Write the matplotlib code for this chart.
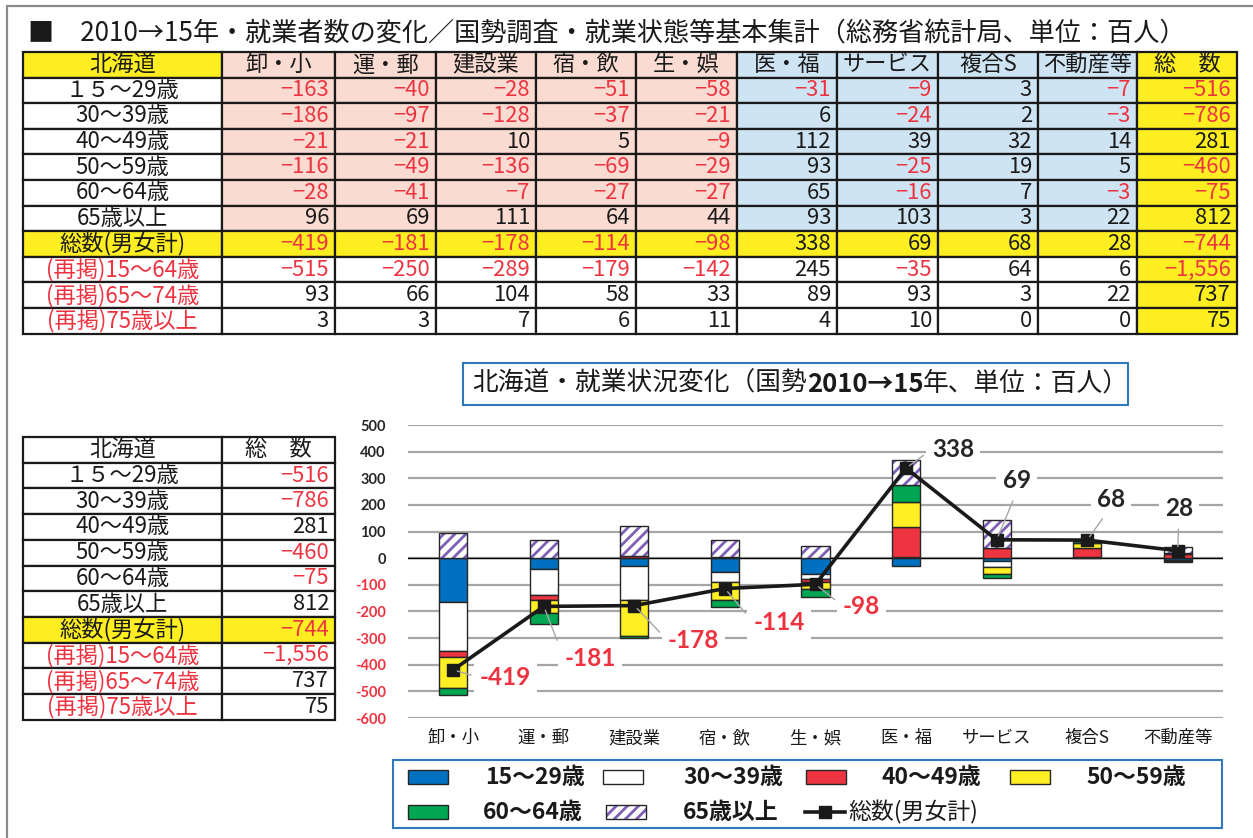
import matplotlib
matplotlib.use('Agg')
import matplotlib.pyplot as plt
from matplotlib.patches import Rectangle
import numpy as np

plt.rcParams['font.family'] = ['Noto Sans CJK JP', 'DejaVu Sans']
plt.rcParams['hatch.linewidth'] = 2.0

# ---------------- data ----------------
industries = ['卸・小', '運・郵', '建設業', '宿・飲', '生・娯', '医・福', 'サービス', '複合S', '不動産等']
age_labels = ['15～29歳', '30～39歳', '40～49歳', '50～59歳', '60～64歳', '65歳以上']
row_labels = ['１５～29歳', '30～39歳', '40～49歳', '50～59歳', '60～64歳', '65歳以上',
              '総数(男女計)', '(再掲)15～64歳', '(再掲)65～74歳', '(再掲)75歳以上']
v_15_29 = [-163, -40, -28, -51, -58, -31, -9, 3, -7]
v_30_39 = [-186, -97, -128, -37, -21, 6, -24, 2, -3]
v_40_49 = [-21, -21, 10, 5, -9, 112, 39, 32, 14]
v_50_59 = [-116, -49, -136, -69, -29, 93, -25, 19, 5]
v_60_64 = [-28, -41, -7, -27, -27, 65, -16, 7, -3]
v_65over = [96, 69, 111, 64, 44, 93, 103, 3, 22]
v_total = [-419, -181, -178, -114, -98, 338, 69, 68, 28]
v_15_64 = [-515, -250, -289, -179, -142, 245, -35, 64, 6]
v_65_74 = [93, 66, 104, 58, 33, 89, 93, 3, 22]
v_75over = [3, 3, 7, 6, 11, 4, 10, 0, 0]
col_total = [-516, -786, 281, -460, -75, 812, -744, -1556, 737, 75]
y_ticks = [500, 400, 300, 200, 100, 0, -100, -200, -300, -400, -500, -600]

# ---------------- styles ----------------
YEL = '#FCEE21'
PINK = '#FADBD2'
LBLUE = '#CFE4F3'
RED_T = '#EE3340'
DARK = '#1A1A1A'
BOXBLUE = '#2E78BE'
C_BLUE = '#0070C0'
C_RED = '#EE3440'
C_YEL = '#FFEF24'
C_GREEN = '#00A651'
C_PURP = '#7E5FB8'

fig = plt.figure(figsize=(12.53, 8.38), dpi=100)
fa = fig.add_axes([0, 0, 1, 1], zorder=0)
fa.set_xlim(0, 1253)
fa.set_ylim(838, 0)
fa.axis('off')

# outer frame
fa.plot([7, 7, 1253], [838, 6, 6], color='#8C8C8C', lw=1.6, solid_joinstyle='miter')

# main title
fa.text(28, 33, '■　2010→15年・就業者数の変化／国勢調査・就業状態等基本集計（総務省統計局、単位：百人）',
        fontsize=18.8, va='center', ha='left', color=DARK)


def fmt(v, minus='−'):
    return f'{v:,}'.replace('-', minus)


def cell(x0, x1, y0, y1, fc, lw=1.6):
    fa.add_patch(Rectangle((x0, y0), x1 - x0, y1 - y0, facecolor=fc,
                           edgecolor=DARK, lw=lw, zorder=1))


# ---------------- main table ----------------
col_edges = [23, 222, 335, 436, 536, 636, 737, 837, 938, 1038, 1137, 1237]
top = 52
rh = 25.6
table_rows = [v_15_29, v_30_39, v_40_49, v_50_59, v_60_64, v_65over,
              v_total, v_15_64, v_65_74, v_75over]
headers = ['北海道'] + industries + ['総　数']
FS = 16
NFS = 15.8

for c in range(len(headers)):
    x0, x1 = col_edges[c], col_edges[c + 1]
    if c == 0 or c == 10:
        fc = YEL
    elif c <= 5:
        fc = PINK
    else:
        fc = LBLUE
    cell(x0, x1, top, top + rh, fc)
    fa.text((x0 + x1) / 2, top + rh / 2, headers[c], ha='center', va='center',
            fontsize=FS, color=DARK, zorder=3)

for r in range(10):
    y0 = top + rh * (r + 1)
    y1 = y0 + rh
    for c in range(len(col_edges) - 1):
        x0, x1 = col_edges[c], col_edges[c + 1]
        if r == 6 or c == 10:
            fc = YEL
        elif r <= 5 and c == 0:
            fc = 'white'
        elif r <= 5 and c <= 5:
            fc = PINK
        elif r <= 5:
            fc = LBLUE
        else:
            fc = 'white'
        cell(x0, x1, y0, y1, fc)
        if c == 0:
            fa.text((x0 + x1) / 2, (y0 + y1) / 2, row_labels[r], ha='center', va='center',
                    fontsize=FS, color=RED_T if r >= 7 else DARK, zorder=3)
        else:
            v = table_rows[r][c - 1] if c <= 9 else col_total[r]
            fa.text(x1 - 6, (y0 + y1) / 2, fmt(v), ha='right', va='center',
                    fontsize=NFS, color=RED_T if v < 0 else DARK, zorder=3)

# ---------------- small table ----------------
sc = [23, 222, 335]
stop = 437
srh = 25.7
cell(sc[0], sc[1], stop, stop + srh, 'white')
cell(sc[1], sc[2], stop, stop + srh, 'white')
fa.text((sc[0] + sc[1]) / 2, stop + srh / 2, '北海道', ha='center', va='center', fontsize=FS, color=DARK, zorder=3)
fa.text((sc[1] + sc[2]) / 2, stop + srh / 2, '総　数', ha='center', va='center', fontsize=FS, color=DARK, zorder=3)
for r in range(10):
    y0 = stop + srh * (r + 1)
    y1 = y0 + srh
    fc = YEL if r == 6 else 'white'
    cell(sc[0], sc[1], y0, y1, fc)
    cell(sc[1], sc[2], y0, y1, fc)
    fa.text((sc[0] + sc[1]) / 2, (y0 + y1) / 2, row_labels[r], ha='center', va='center',
            fontsize=FS, color=RED_T if r >= 7 else DARK, zorder=3)
    v = col_total[r]
    fa.text(sc[2] - 6, (y0 + y1) / 2, fmt(v), ha='right', va='center',
            fontsize=NFS, color=RED_T if v < 0 else DARK, zorder=3)

# ---------------- chart title box ----------------
fa.add_patch(Rectangle((463, 363), 665, 42, facecolor='white', edgecolor=BOXBLUE, lw=1.5))
TFS = 18.5
t1 = fa.text(472, 384, '北海道・就業状況変化（国勢', fontsize=TFS, va='center', ha='left', color=DARK)
t2 = fa.annotate('2010→15', xy=(1, 0.5), xycoords=t1, va='center', ha='left',
                 fontsize=TFS, fontweight='bold', color=DARK)
t3 = fa.annotate('年、単位：百人）', xy=(1, 0.5), xycoords=t2, va='center', ha='left',
                 fontsize=TFS, color=DARK)

# ---------------- chart ----------------
W, H = 1253, 838
ax = fig.add_axes([408 / W, 1 - 718 / H, 815 / W, 293 / H], zorder=2)
ax.patch.set_alpha(0)
x = np.arange(len(industries))
bw = 0.31

series = [v_15_29, v_30_39, v_40_49, v_50_59, v_60_64, v_65over]
face = [C_BLUE, 'white', C_RED, C_YEL, C_GREEN, 'white']
pos_base = np.zeros(len(x))
neg_base = np.zeros(len(x))
for k, vals in enumerate(series):
    vals = np.array(vals, dtype=float)
    bottom = np.where(vals >= 0, pos_base, neg_base)
    if k == 5:
        ax.bar(x, vals, bw, bottom=bottom, facecolor='white', edgecolor=C_PURP,
               hatch='///', lw=0, zorder=2)
        ax.bar(x, vals, bw, bottom=bottom, fill=False, edgecolor='#262626', lw=1.0, zorder=2.1)
    else:
        ax.bar(x, vals, bw, bottom=bottom, facecolor=face[k], edgecolor='#262626',
               lw=1.0, zorder=2)
    pos_base += np.clip(vals, 0, None)
    neg_base += np.clip(vals, None, 0)

ax.plot(x, v_total, color=DARK, lw=2.6, marker='s', ms=9, zorder=5)

# data labels (offsets in pixels: dx right, dy down)
offsets = [(52, 8), (46, 52), (59, 35), (54, 34), (46, 22), (47, -19), (20, -59), (24, -41), (1, -42)]
relposes = [(0, 0.5), (0, 0.5), (0, 0.5), (0, 0.5), (0, 0.5), (0, 0.5), (0.5, 0), (0.4, 0), (0.5, 0)]
for i, v in enumerate(v_total):
    dx, dy = offsets[i]
    ax.annotate(f'{v}', xy=(x[i], v), xytext=(dx * 0.72, -dy * 0.72), textcoords='offset points',
                ha='center', va='center', fontsize=17.5, fontweight='bold',
                family=['Lato', 'DejaVu Sans'],
                color=RED_T if v < 0 else '#262626', zorder=6,
                bbox=dict(boxstyle='square,pad=0.25', fc='white', ec='none'),
                arrowprops=dict(arrowstyle='-', color='#A6A6A6', lw=1.0, shrinkA=2, shrinkB=3,
                                relpos=relposes[i]))

ax.set_xlim(-0.5, len(industries) - 0.5)
ax.set_ylim(-600, 500)
ax.set_yticks(y_ticks)
ax.set_yticklabels([str(t) for t in y_ticks])
for lab, t in zip(ax.get_yticklabels(), y_ticks):
    lab.set_color(RED_T if t < 0 else '#262626')
    lab.set_fontweight('bold')
    lab.set_family(['Lato', 'DejaVu Sans'])
    lab.set_fontsize(10.5)
ax.set_xticks(x)
ax.set_xticklabels(industries, fontsize=12.5, color=DARK)
ax.tick_params(axis='both', length=0)
ax.tick_params(axis='y', pad=16)
ax.tick_params(axis='x', pad=8)
ax.yaxis.grid(True, color='#A6A6A6', lw=1.6)
ax.set_axisbelow(True)
ax.axhline(0, color='black', lw=1.0, zorder=1.5)
for s in ax.spines.values():
    s.set_visible(False)

# ---------------- legend ----------------
fa.add_patch(Rectangle((393, 760), 829, 68, facecolor='white', edgecolor=BOXBLUE, lw=1.5))
LFS = 16.5
r1, r2 = 777, 812
ph = 14
pw = 40
leg = [
    (408, r1, C_BLUE, None, 485, age_labels[0]),
    (603, r1, 'white', None, 683, age_labels[1]),
    (806, r1, C_RED, None, 882, age_labels[2]),
    (1010, r1, C_YEL, None, 1086, age_labels[3]),
    (408, r2, C_GREEN, None, 483, age_labels[4]),
    (606, r2, 'white', '///', 683, age_labels[5]),
]
for px, py, fc, hatch, tx, lab in leg:
    if hatch:
        fa.add_patch(Rectangle((px, py - ph / 2), pw, ph, facecolor='white', edgecolor=C_PURP,
                               hatch=hatch, lw=0, zorder=2))
        fa.add_patch(Rectangle((px, py - ph / 2), pw, ph, fill=False, edgecolor='#262626', lw=1.0, zorder=2))
    else:
        fa.add_patch(Rectangle((px, py - ph / 2), pw, ph, facecolor=fc, edgecolor='#262626', lw=1.0, zorder=2))
    fa.text(tx, py, lab, fontsize=LFS, fontweight='bold', va='center', ha='left', color=DARK, zorder=3)
fa.plot([805, 845], [r2, r2], color=DARK, lw=2.6, zorder=3)
fa.plot([825], [r2], color=DARK, marker='s', ms=8, lw=0, zorder=3)
fa.text(848, r2, '総数(男女計)', fontsize=LFS, va='center', ha='left', color=DARK, zorder=3)

fig.savefig('out.png', dpi=100)
